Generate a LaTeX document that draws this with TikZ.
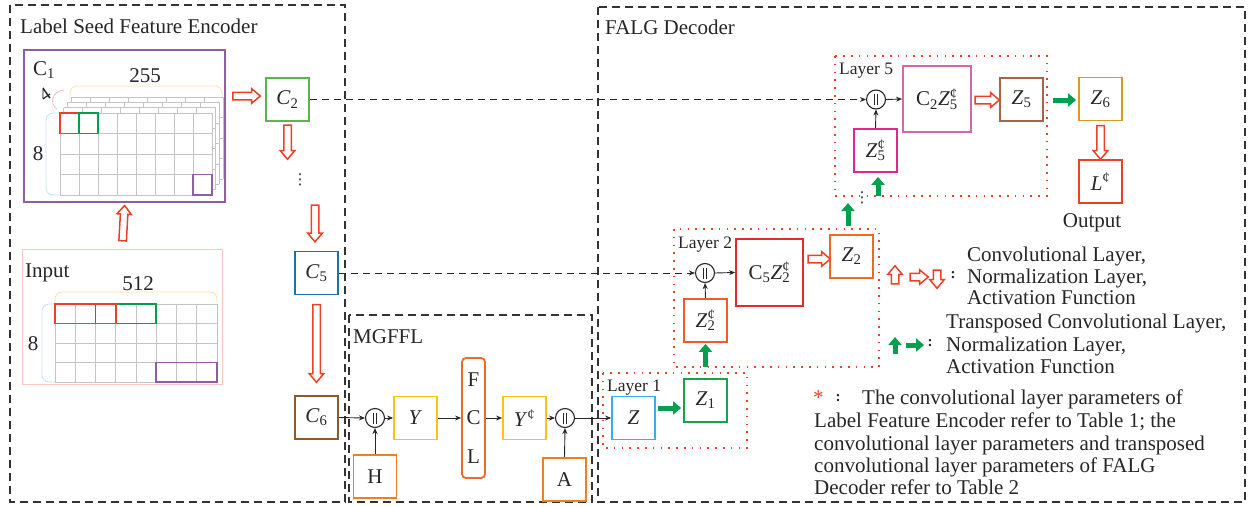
\documentclass[tikz,border=0pt]{standalone}
\usepackage{fontspec}
\usepackage{graphicx}
\setmainfont{Liberation Serif}
\newfontfamily\dejavu{DejaVu Sans}
\usetikzlibrary{calc,arrows.meta,shapes.arrows}
\definecolor{redA}{HTML}{EE4026}
\definecolor{grA}{HTML}{00A04F}
\definecolor{purA}{HTML}{8E5DA8}
\definecolor{grB}{HTML}{55B848}
\definecolor{bluA}{HTML}{1E73A6}
\definecolor{brnA}{HTML}{8C5A2C}
\definecolor{yelA}{HTML}{FFC20E}
\definecolor{orA}{HTML}{EE6A24}
\definecolor{orB}{HTML}{F07F22}
\definecolor{bluB}{HTML}{3BAEE6}
\definecolor{grC}{HTML}{1AA24A}
\definecolor{redB}{HTML}{F05A2C}
\definecolor{redC}{HTML}{E52A2E}
\definecolor{magA}{HTML}{E4268A}
\definecolor{orcA}{HTML}{D068AC}
\definecolor{brnB}{HTML}{A5634B}
\definecolor{golA}{HTML}{D89B22}
\definecolor{pinkA}{HTML}{F5C8C0}
\definecolor{gridc}{HTML}{C4C4C4}
\definecolor{dashc}{HTML}{333333}
\definecolor{brYel}{HTML}{FBE3A8}
\definecolor{brBlu}{HTML}{BFE3F5}
\definecolor{brPink}{HTML}{F5B8BE}
\newcommand\fsz{\fontsize{21}{25}\selectfont}
\newcommand\lfsz{\fontsize{17.5}{20}\selectfont}
\newcommand\supsub[2]{\rlap{\textsuperscript{#1}}\textsubscript{#2}}
\newcommand\catsym{\rule[-5.5pt]{1pt}{11pt}\hspace{1.8pt}\rule[-5.5pt]{1pt}{11pt}}
\newcommand\vdt{{\dejavu\fontsize{15}{15}\selectfont ⋮}}
\newcommand\harr[3]{\path let \p1=#2, \p2=#3, \n1={atan2(\y2-\y1,\x2-\x1)}, \n2={veclen(\x2-\x1,\y2-\y1)} in node[hollow, rotate=\n1, minimum height=\n2] (#1) at ($(\p1)!0.5!(\p2)$) {};}
\begin{document}
\begin{tikzpicture}[x=1pt,y=-1pt,
  every node/.style={font=\fsz, inner sep=0pt, text=black!85},
  box/.style={draw, line width=1.8pt, minimum width=43pt, minimum height=43pt, fill=white},
  cat/.style={circle, draw=black!85, line width=1.1pt, minimum size=19pt, inner sep=0pt, fill=white},
  con/.style={draw=black!85, line width=0.9pt, -{Stealth[length=6pt,width=5pt]}},
  dconn/.style={con, dash pattern=on 7pt off 5pt},
  outer/.style={draw=dashc, line width=1.1pt, dash pattern=on 8pt off 5pt},
  lay/.style={draw=redA, line width=1.8pt, dash pattern=on 1.6pt off 6.2pt},
  hollow/.style={single arrow, draw=redA, fill=white, line width=1.5pt, inner xsep=0pt, inner ysep=3pt, minimum width=0pt, single arrow head extend=3.5pt, single arrow head indent=0pt, single arrow tip angle=80},
  garr/.style={draw=grA, line width=5pt, -{Triangle[length=8pt,width=13pt]}},
  txt/.style={anchor=base west},
  brace/.style={line width=0.8pt, rounded corners=7pt},
  gl/.style={gridc, line width=0.7pt}
]
\useasboundingbox (0,0) rectangle (1255,506);
\fill[white] (0,0) rectangle (1255,506);
% outer groups
\draw[outer] (10,5) rectangle (345,502);
\draw[outer] (349,315) rectangle (592,502);
\draw[outer] (598,7) rectangle (1245,502);
\node[txt] (encT) at (20,33) {Label Seed Feature Encoder};
\node[txt] (decT) at (605,34) {FALG Decoder};
\node[txt] (mgT) at (353,343) {MGFFL};
% C1 feature maps
\node[box, draw=purA, line width=1.5pt, minimum width=201pt, minimum height=152pt] (c1) at (124.5,126) {};
\node[txt] (c1lab) at (33,75) {C\textsubscript{1}};
\draw[brace, brYel] (70,98) -- (70,86) -- (222,86) -- (222,98);
\node[anchor=base] (n255) at (145,82) {255};
\draw[brPink, line width=0.8pt] (64,90) .. controls (52,91) and (49,104) .. (57,109);
\node (n4) at (45,95) {\rotatebox{35}{\fontsize{19}{19}\selectfont 4}};
\draw[brace, brBlu] (59,113) -- (46,113) -- (46,195) -- (59,195);
\node[anchor=base] (n8a) at (38,160) {8};
\foreach \k in {3,2,1,0}{
  \begin{scope}[shift={({3.7*\k},{-5.3*\k})}]
    \fill[white] (60,113) rectangle (212,195);
    \foreach \i in {0,...,8} \draw[gl] ({60+19*\i},113) -- ({60+19*\i},195);
    \foreach \j in {0,...,4} \draw[gl] (60,{113+20.5*\j}) -- (212,{113+20.5*\j});
  \end{scope}}
\draw[redA, line width=1.6pt] (60,113) rectangle (79,133.5);
\draw[grA, line width=1.6pt] (79,113) rectangle (98,133.5);
\draw[purA, line width=1.6pt] (193,174.5) rectangle (212,195);
% Input
\node[box, draw=pinkA, line width=0.9pt, minimum width=200pt, minimum height=135pt] (inp) at (122.5,317) {};
\node[txt] (inplab) at (25,277) {Input};
\node[anchor=base] (n512) at (138,290) {512};
\draw[brace, brYel] (55,303) -- (55,292) -- (217,292) -- (217,303);
\draw[brace, brBlu] (55,304) -- (42,304) -- (42,382) -- (55,382);
\node[anchor=base] (n8b) at (33,350) {8};
\foreach \i in {0,...,8} \draw[gl] ({55+20.25*\i},304) -- ({55+20.25*\i},382);
\foreach \j in {0,...,4} \draw[gl] (55,{304+19.5*\j}) -- (217,{304+19.5*\j});
\draw[grA, line width=1.6pt] (95.5,304) rectangle (156.25,323.5);
\draw[redA, line width=1.6pt] (55,304) rectangle (115.75,323.5);
\draw[purA, line width=1.6pt] (156.25,362.5) rectangle (217,382);
% encoder chain
\node[box, draw=grB] (c2) at (287.5,99.5) {\textit{C}\textsubscript{2}};
\node (dots1) at (300,180) {\vdt};
\node[box, draw=bluA] (c5) at (316.5,273) {\textit{C}\textsubscript{5}};
\node[box, draw=brnA] (c6) at (316.5,417.5) {\textit{C}\textsubscript{6}};
\coordinate (a3e) at (287.5,157);
\coordinate (a4s) at (315,203);
\harr{ha1}{($(inp.north)+(0,-6)$)}{($(c1.south)+(0,5)$)}
\harr{ha2}{($(c1.east)+(5,-30)$)}{($(c2.west)+(-7,-3.5)$)}
\harr{ha3}{($(c2.south)+(0,1)$)}{(a3e)}
\harr{ha4}{(a4s)}{($(c5.north)+(-1.5,-11)$)}
\harr{ha5}{($(c5.south)+(0,7)$)}{($(c6.north)+(0,-15)$)}
% MGFFL
\node[cat] (cat1) at (375,418) {\catsym};
\node[box, draw=yelA] (ynode) at (415.5,418) {\textit{Y}};
\node[draw=orA, line width=1.8pt, rounded corners=4pt, minimum width=23pt, minimum height=120pt, align=center, font=\fontsize{21}{38.5}\selectfont] (fcl) at (473.5,418) {F\\C\\L};
\node[box, draw=yelA] (ypnode) at (524.5,418) {\textit{Y}\textsuperscript{¢}};
\node[cat] (cat2) at (565,418) {\catsym};
\node[box, draw=orB] (hnode) at (375,476.5) {H};
\node[box, draw=orB] (anode) at (564.5,479.5) {A};
\node[box, draw=bluB] (z) at (633.5,418) {\textit{Z}};
\draw[con] (c6.east) -- (cat1.west);
\draw[con] (cat1.east) -- (ynode.west);
\draw[con] (ynode.east) -- (fcl.west);
\draw[con] (fcl.east) -- (ypnode.west);
\draw[con] (ypnode.east) -- (cat2.west);
\draw[con] (cat2.east) -- (z.west);
\draw[con] (hnode.north) -- (cat1.south);
\draw[con] (anode.north) -- (cat2.south);
% Layer 1
\draw[lay] (603,373) rectangle (747,448);
\node[txt, font=\lfsz] (l1) at (607,391) {Layer 1};
\node[box, draw=grC] (z1) at (705.5,400.5) {\textit{Z}\textsubscript{1}};
\draw[garr] ($(z.east)+(2,-10)$) -- ($(z1.west)+(-2,7.5)$);
% Layer 2
\draw[lay] (674,229) rectangle (879,367);
\node[txt, font=\lfsz] (l2) at (678,248) {Layer 2};
\node[cat] (cat3) at (705,273) {\catsym};
\node[box, draw=redC, minimum width=67pt, minimum height=67pt] (c5z2) at (769.5,272.5) {C\textsubscript{5}\textit{Z}\supsub{¢}{2}};
\node[box, draw=orA] (z2) at (851.5,256.5) {\textit{Z}\textsubscript{2}};
\node[box, draw=redB] (z2p) at (705.5,320.5) {\textit{Z}\supsub{¢}{2}};
\draw[con] (cat3.east) -- (c5z2.west);
\draw[con] (z2p.north) -- (cat3.south);
\draw[garr] ($(z1.north)+(0,-11)$) -- ($(z2p.south)+(0,1)$);
\harr{ha6}{($(c5z2.east)+(2,-13.5)$)}{($(z2.west)+(-1,2.5)$)}
\coordinate (g3e) at (848,203);
\draw[garr] ($(z2.north)+(-3.5,-8)$) -- (g3e);
\node (dots2) at (862,198) {\vdt};
% Layer 5
\draw[lay] (835,56) rectangle (1047,196);
\node[txt, font=\lfsz] (l5) at (839,74) {Layer 5};
\node[cat] (cat5) at (876,99.5) {\catsym};
\node[box, draw=orcA, minimum width=68pt, minimum height=66pt] (c2z5) at (937,99) {C\textsubscript{2}\textit{Z}\supsub{¢}{5}};
\node[box, draw=magA] (z5p) at (875.5,150.5) {\textit{Z}\supsub{¢}{5}};
\coordinate (g4s) at (878,196);
\draw[garr] (g4s) -- ($(z5p.south)+(2.5,4)$);
\node[box, draw=brnB] (z5) at (1021.5,99.5) {\textit{Z}\textsubscript{5}};
\harr{ha7}{($(c2z5.east)+(1,1)$)}{($(z5.west)+(-2,0.5)$)}
\node[box, draw=golA] (z6) at (1100.5,99) {\textit{Z}\textsubscript{6}};
\draw[garr] ($(z5.east)+(9,0.5)$) -- ($(z6.west)+(-2,1)$);
\node[box, draw=redA] (lp) at (1100.5,181.5) {\textit{L}\textsuperscript{¢}};
\harr{ha8}{($(z6.south)+(0,2)$)}{($(lp.north)+(0,-2)$)}
\node[anchor=base] (outp) at (1092,227) {Output};
\draw[con] (cat5.east) -- (c2z5.west);
\draw[con] (z5p.north) -- (cat5.south);
% skip connections
\draw[dconn] (c2.east) -- (cat5.west);
\draw[dconn] (c5.east) -- (cat3.west);
% legend
\coordinate (lr1a) at (895,286); \coordinate (lr1b) at (895,268);
\coordinate (lr2a) at (908,277); \coordinate (lr2b) at (926,277);
\coordinate (lr3a) at (937,268); \coordinate (lr3b) at (937,286);
\harr{lg1}{(lr1a)}{(lr1b)}
\harr{lg2}{(lr2a)}{(lr2b)}
\harr{lg3}{(lr3a)}{(lr3b)}
\node[font=\fontsize{15}{15}\selectfont\bfseries] (col1) at (953,275) {:};
\coordinate (lg1a) at (895,354); \coordinate (lg1b) at (895,337);
\coordinate (lg2a) at (906,345); \coordinate (lg2b) at (924,345);
\draw[garr] (lg1a) -- (lg1b);
\draw[garr] (lg2a) -- (lg2b);
\node[font=\fontsize{15}{15}\selectfont\bfseries] (col2) at (930,343) {:};
\node[txt] (lt1) at (967,261) {Convolutional Layer,};
\node[txt] (lt2) at (967,283) {Normalization Layer,};
\node[txt] (lt3) at (967,304) {Activation Function};
\node[txt] (lt4) at (946,328) {Transposed Convolutional Layer,};
\node[txt] (lt5) at (946,351) {Normalization Layer,};
\node[txt] (lt6) at (946,373) {Activation Function};
% footnote
\node[txt, text=redA] (ast) at (813,404) {*};
\node[font=\fontsize{15}{15}\selectfont\bfseries] (col3) at (838,398) {:};
\node[txt] (f1) at (862,404) {The convolutional layer parameters of};
\node[txt] (f2) at (814,427) {Label Feature Encoder refer to Table 1; the};
\node[txt] (f3) at (814,450) {convolutional layer parameters and transposed};
\node[txt] (f4) at (814,472) {convolutional layer parameters of FALG};
\node[txt] (f5) at (814,494) {Decoder refer to Table 2};
\end{tikzpicture}
\end{document}
